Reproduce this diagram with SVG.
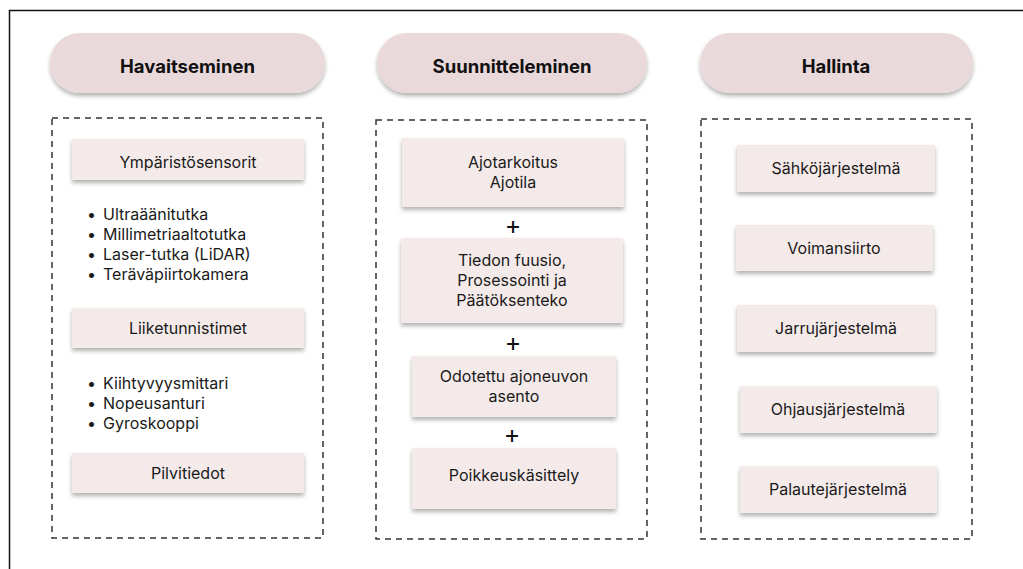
<svg xmlns="http://www.w3.org/2000/svg" width="1023" height="569" viewBox="0 0 1023 569">
<defs>
<filter id="sh" x="-10%" y="-20%" width="120%" height="150%">
<feDropShadow dx="0" dy="3" stdDeviation="2" flood-color="#000" flood-opacity="0.3"/>
</filter>
<style>
.pill{fill:#ead9da;filter:url(#sh)}
.box{fill:#f5eaea;filter:url(#sh)}
.dash{fill:none;stroke:#333;stroke-width:1.5;stroke-dasharray:6 5}
.h{font-family:Inter,"Liberation Sans",sans-serif;font-weight:700;font-size:18.5px;fill:#111;text-anchor:middle;dominant-baseline:central}
.t{font-family:Inter,"Liberation Sans",sans-serif;font-size:16px;fill:#1a1a1a;text-anchor:middle;dominant-baseline:central}
.b{font-family:Inter,"Liberation Sans",sans-serif;font-size:16px;fill:#1a1a1a;dominant-baseline:central}
.p{font-family:Inter,"Liberation Sans",sans-serif;font-weight:400;font-size:25px;fill:#111;text-anchor:middle;dominant-baseline:central}
</style>
</defs>
<rect width="1023" height="569" fill="#fff"/>
<g id="frame"><path d="M9.5 569 V10.5 H1023" fill="none" stroke="#111" stroke-width="1.5"/></g>

<g id="col1">
<g id="h1"><rect class="pill" x="50" y="33" width="275" height="60" rx="30"/><text class="h" x="187.5" y="66">Havaitseminen</text></g>
<rect id="frame1" class="dash" x="52" y="118" width="271" height="420"/>
<g id="n-ymp"><rect class="box" x="72" y="139" width="232" height="41"/><text class="t" x="188" y="162">Ympäristösensorit</text></g>
<g id="list1">
<text class="b" x="87" y="214">•</text><text class="b" x="103" y="214">Ultraäänitutka</text>
<text class="b" x="87" y="234">•</text><text class="b" x="103" y="234">Millimetriaaltotutka</text>
<text class="b" x="87" y="254">•</text><text class="b" x="103" y="254">Laser-tutka (LiDAR)</text>
<text class="b" x="87" y="274">•</text><text class="b" x="103" y="274">Teräväpiirtokamera</text>
</g>
<g id="n-liike"><rect class="box" x="72" y="308" width="232" height="40"/><text class="t" x="188" y="328">Liiketunnistimet</text></g>
<g id="list2">
<text class="b" x="87" y="383">•</text><text class="b" x="103" y="383">Kiihtyvyysmittari</text>
<text class="b" x="87" y="403">•</text><text class="b" x="103" y="403">Nopeusanturi</text>
<text class="b" x="87" y="423">•</text><text class="b" x="103" y="423">Gyroskooppi</text>
</g>
<g id="n-pilvi"><rect class="box" x="72" y="453" width="232" height="40"/><text class="t" x="188" y="473">Pilvitiedot</text></g>
</g>

<g id="col2">
<g id="h2"><rect class="pill" x="377" y="33" width="270" height="60" rx="30"/><text class="h" x="512" y="66">Suunnitteleminen</text></g>
<rect id="frame2" class="dash" x="376" y="120" width="271" height="419"/>
<g id="n-ajo"><rect class="box" x="402" y="138" width="222" height="69"/><text class="t" x="513" y="162">Ajotarkoitus</text><text class="t" x="513" y="182">Ajotila</text></g>
<text class="p" x="513" y="225">+</text>
<g id="n-tiedon"><rect class="box" x="401" y="238" width="222" height="85"/><text class="t" x="512" y="260">Tiedon fuusio,</text><text class="t" x="512" y="280">Prosessointi ja</text><text class="t" x="512" y="300">Päätöksenteko</text></g>
<text class="p" x="513" y="342">+</text>
<g id="n-odot"><rect class="box" x="412" y="356" width="204" height="61"/><text class="t" x="514" y="376">Odotettu ajoneuvon</text><text class="t" x="514" y="396">asento</text></g>
<text class="p" x="512" y="434">+</text>
<g id="n-poik"><rect class="box" x="412" y="448" width="204" height="61"/><text class="t" x="514" y="475">Poikkeuskäsittely</text></g>
</g>

<g id="col3">
<g id="h3"><rect class="pill" x="700" y="33" width="273" height="60" rx="30"/><text class="h" x="836" y="66">Hallinta</text></g>
<rect id="frame3" class="dash" x="701" y="119" width="271" height="420"/>
<g id="n-sahko"><rect class="box" x="737" y="145" width="198" height="47"/><text class="t" x="836" y="168">Sähköjärjestelmä</text></g>
<g id="n-voima"><rect class="box" x="736" y="225" width="197" height="46"/><text class="t" x="834" y="248">Voimansiirto</text></g>
<g id="n-jarru"><rect class="box" x="737" y="305" width="198" height="47"/><text class="t" x="836" y="328">Jarrujärjestelmä</text></g>
<g id="n-ohjaus"><rect class="box" x="740" y="386" width="197" height="47"/><text class="t" x="838" y="409">Ohjausjärjestelmä</text></g>
<g id="n-palaute"><rect class="box" x="740" y="466" width="197" height="47"/><text class="t" x="838" y="489">Palautejärjestelmä</text></g>
</g>
<g id="connectors"></g>
</svg>
